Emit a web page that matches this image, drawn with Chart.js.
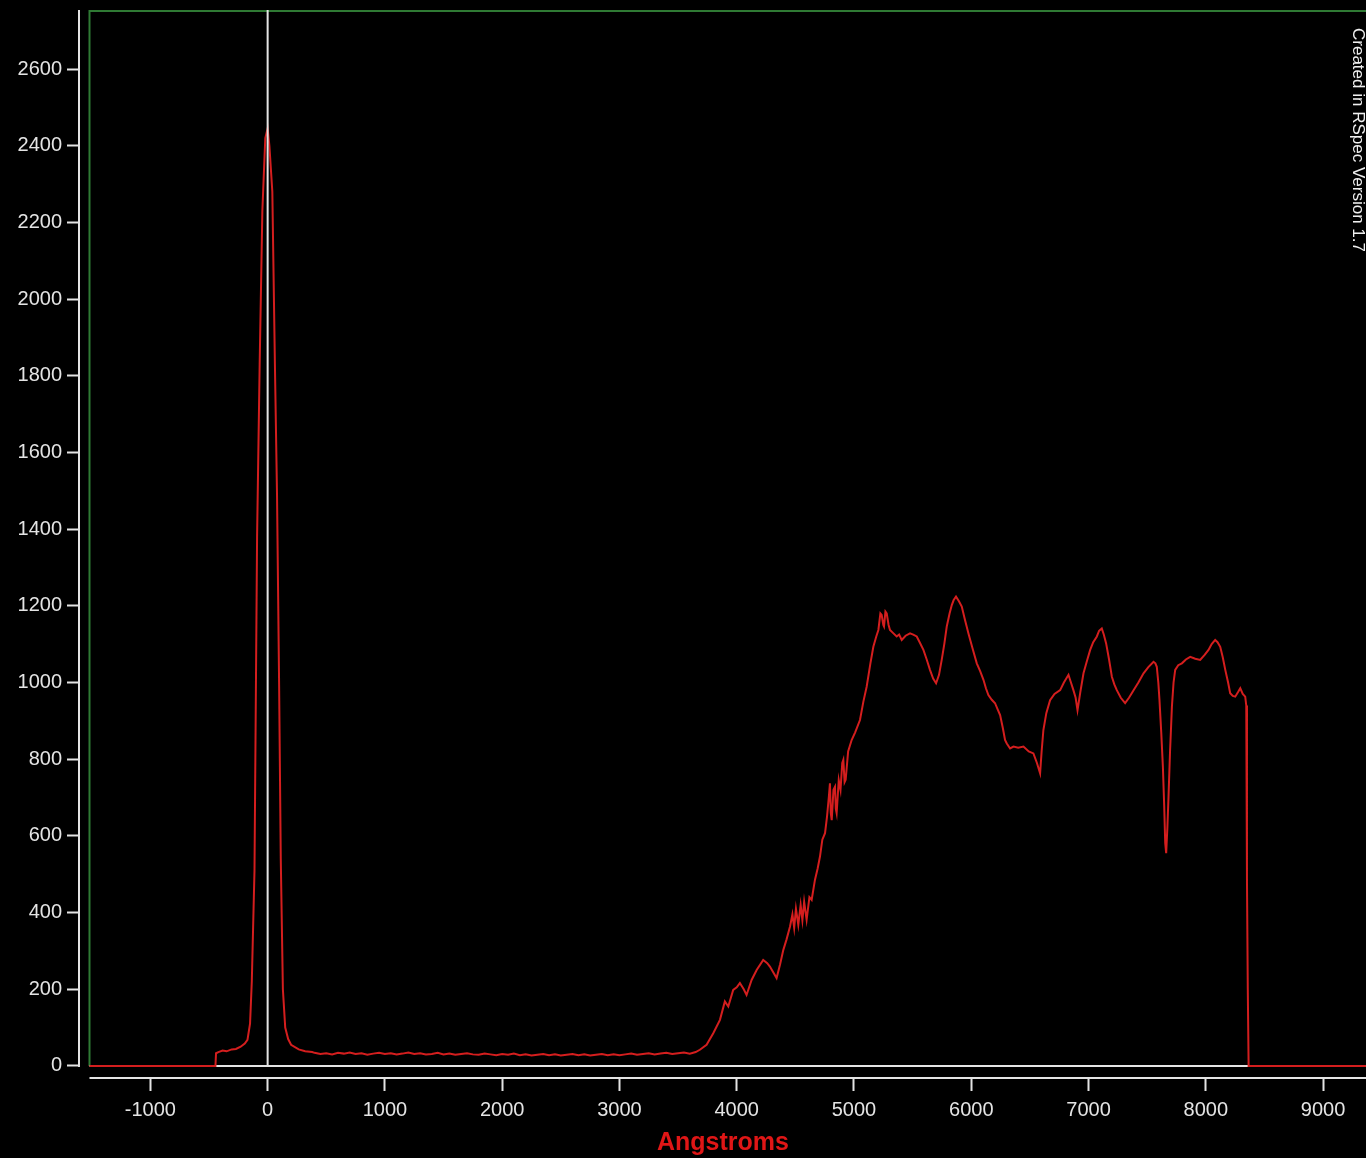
<!DOCTYPE html>
<html>
<head>
<meta charset="utf-8">
<title>Spectrum</title>
<script src="https://cdn.jsdelivr.net/npm/chart.js@4.4.1/dist/chart.umd.min.js"></script>
<style>
  html, body { margin: 0; padding: 0; background: #000; }
  canvas { display: block; }
</style>
</head>
<body>
<canvas id="spectrum" width="1366" height="1158"></canvas>
<script>
// spectrum: wavelength (Angstroms) and counts
const wavelengths = [
  -1519, -445, -440, -420, -384, -350, -307, -270, -230, -195, -172,
  -150, -135, -112, -90, -68, -45, -20, 0, 15, 40, 62, 80, 98, 112, 130, 150, 175, 200, 265, 320, 380,
  400, 450, 500, 550, 600, 650, 700, 750, 800, 850, 900, 950, 1000, 1050, 1100, 1150, 1200, 1250,
  1300, 1350, 1400, 1450, 1500, 1550, 1600, 1650, 1700, 1750, 1800, 1850, 1900, 1950, 2000, 2050,
  2100, 2150, 2200, 2250, 2300, 2350, 2400, 2450, 2500, 2550, 2600, 2650, 2700, 2750, 2800, 2850,
  2900, 2950, 3000, 3050, 3100, 3150, 3200, 3250, 3300, 3350, 3400, 3450, 3500, 3550, 3600, 3650,
  3686, 3743, 3800, 3857, 3899, 3928, 3970, 4000, 4027, 4060, 4084, 4127, 4170, 4226, 4260, 4283,
  4310, 4340, 4370, 4397, 4425, 4454, 4475, 4490, 4505, 4525, 4545, 4560, 4575, 4596, 4620, 4639,
  4667, 4690, 4710, 4730, 4753, 4770, 4785, 4795, 4802, 4810, 4825, 4838, 4845, 4852, 4870, 4885,
  4900, 4909, 4920, 4929, 4950, 4980, 5010, 5051, 5080, 5108, 5140, 5165, 5190, 5208, 5225, 5236,
  5250, 5256, 5268, 5279, 5295, 5307, 5330, 5364, 5385, 5407, 5440, 5478, 5505, 5535, 5560, 5592,
  5620, 5648, 5675, 5700, 5725, 5748, 5770, 5791, 5815, 5834, 5850, 5870, 5895, 5919, 5945, 5976,
  6010, 6047, 6075, 6104, 6125, 6146, 6175, 6203, 6225, 6246, 6270, 6288, 6303, 6331, 6360, 6400,
  6445, 6490, 6530, 6560, 6587, 6600, 6615, 6640, 6672, 6710, 6758, 6790, 6829, 6850, 6871, 6890,
  6906, 6930, 6957, 6985, 7014, 7040, 7071, 7090, 7113, 7130, 7150, 7175, 7199, 7220, 7241, 7275,
  7312, 7345, 7384, 7425, 7469, 7510, 7554, 7570, 7582, 7595, 7605, 7620, 7634, 7645, 7654, 7662,
  7672, 7682, 7695, 7711, 7725, 7739, 7765, 7796, 7830, 7867, 7910, 7952, 7990, 8023, 8050, 8080,
  8100, 8123, 8145, 8166, 8190, 8208, 8230, 8251, 8275, 8294, 8315, 8336, 8345, 8351, 8358, 8365,
  9370
];
const counts = [
  0, 0, 33, 36, 40, 38, 43, 44, 50, 58, 68,
  110, 220, 510, 1380, 1830, 2230, 2420, 2445, 2400, 2280, 1830, 1490, 990, 540, 200, 100, 70, 55, 43, 38, 36,
  34, 31, 33, 30, 34, 32, 35, 31, 33, 29, 32, 34, 31, 33, 30, 32, 35, 31,
  33, 30, 31, 34, 30, 32, 29, 31, 33, 30, 29, 32, 30, 28, 31, 29,
  32, 28, 30, 27, 29, 31, 28, 30, 27, 29, 31, 28, 30, 27, 29, 31,
  28, 30, 28, 30, 32, 29, 31, 33, 30, 32, 34, 31, 33, 35, 32, 36,
  42, 55, 85, 120, 168, 155, 198, 205, 216, 200, 185, 224, 250, 276, 268, 259,
  245, 229, 265, 302, 330, 363, 395, 360, 410, 368, 420, 380, 428, 381, 440, 433,
  485, 515, 546, 590, 607, 650, 700, 737, 660, 641, 720, 728, 670, 659, 745, 720,
  790, 798, 740, 746, 820, 850, 870, 902, 950, 989, 1050, 1093, 1120, 1137, 1180, 1176,
  1150, 1146, 1185, 1180, 1150, 1137, 1130, 1120, 1125, 1111, 1122, 1128, 1125, 1120, 1105, 1085,
  1060, 1033, 1010, 998, 1020, 1059, 1100, 1146, 1180, 1202, 1215, 1224, 1212, 1198, 1165, 1128,
  1090, 1050, 1030, 1007, 985, 967, 955, 946, 930, 915, 880, 850, 841, 828, 833, 830,
  833, 820, 815, 790, 763, 820, 876, 920, 954, 970, 980, 1000, 1020, 1000, 980, 960,
  928, 975, 1024, 1055, 1085, 1105, 1120, 1135, 1141, 1125, 1102, 1060, 1015, 995, 980, 960,
  946, 960, 980, 1000, 1024, 1040, 1054, 1050, 1041, 1000, 954, 870, 780, 680, 581, 555,
  620, 702, 820, 937, 1000, 1033, 1045, 1050, 1060, 1067, 1062, 1059, 1072, 1085, 1100, 1111,
  1105, 1093, 1065, 1033, 1000, 972, 965, 963, 975, 985, 970, 963, 940, 485, 200, 0,
  0
];

const xTickValues = [-1000, 0, 1000, 2000, 3000, 4000, 5000, 6000, 7000, 8000, 9000];
const yTickValues = [0, 200, 400, 600, 800, 1000, 1200, 1400, 1600, 1800, 2000, 2200, 2400, 2600];

const axisColor = '#e4e4e4';
const frameColor = '#2f7a34';
const lineColor = '#d41e1e';
const creditText = 'Created in RSpec Version 1.7';
const tickFont = {family: '"Liberation Sans", Arial, sans-serif', size: 20};

// frame, zero line, marker at 0 A, axis lines, credit
const decorations = {
  id: 'decorations',
  beforeDatasetsDraw(chart) {
    const {ctx, chartArea, scales: {x, y}} = chart;
    const left = x.getPixelForValue(wavelengths[0]);
    const zeroY = y.getPixelForValue(0);
    ctx.save();
    ctx.strokeStyle = frameColor;
    ctx.lineWidth = 2;
    ctx.beginPath();
    ctx.moveTo(left, zeroY);
    ctx.lineTo(left, chartArea.top + 1);
    ctx.lineTo(chartArea.right + 2, chartArea.top + 1);
    ctx.stroke();

    ctx.strokeStyle = axisColor;
    ctx.beginPath();
    ctx.moveTo(left, zeroY);
    ctx.lineTo(chartArea.right, zeroY);
    ctx.stroke();
    ctx.restore();
  },
  afterDatasetsDraw(chart) {
    const {ctx, chartArea, scales: {x, y}} = chart;
    const zeroX = x.getPixelForValue(0);
    const zeroY = y.getPixelForValue(0);
    ctx.save();
    ctx.strokeStyle = axisColor;
    ctx.lineWidth = 2;
    ctx.beginPath();
    ctx.moveTo(zeroX, chartArea.top);
    ctx.lineTo(zeroX, zeroY);
    // y axis line
    ctx.moveTo(y.right - 1, chartArea.top);
    ctx.lineTo(y.right - 1, zeroY + 1);
    // x axis line
    ctx.moveTo(x.getPixelForValue(wavelengths[0]), x.top + 1);
    ctx.lineTo(chartArea.right, x.top + 1);
    ctx.stroke();

    ctx.translate(chartArea.right - 8, chartArea.top + 18);
    ctx.rotate(Math.PI / 2);
    ctx.fillStyle = '#f0f0f0';
    ctx.font = '17px "Liberation Sans", Arial, sans-serif';
    ctx.textAlign = 'left';
    ctx.textBaseline = 'middle';
    ctx.fillText(creditText, 0, 0);
    ctx.restore();
  }
};

new Chart(document.getElementById('spectrum'), {
  type: 'line',
  data: {
    datasets: [{
      data: wavelengths.map((w, i) => ({x: w, y: counts[i]})),
      borderColor: lineColor,
      borderWidth: 2,
      pointRadius: 0,
      tension: 0,
      fill: false
    }]
  },
  options: {
    responsive: false,
    animation: false,
    devicePixelRatio: 1,
    layout: {padding: {top: 10, left: 0, right: 0, bottom: 0}},
    plugins: {legend: {display: false}, tooltip: {enabled: false}},
    scales: {
      x: {
        type: 'linear',
        min: -1600,
        max: 9366,
        afterFit: s => { s.height = 81; s.paddingLeft = 0; s.paddingRight = 0; },
        afterBuildTicks: s => { s.ticks = xTickValues.map(v => ({value: v})); },
        border: {display: false},
        grid: {drawOnChartArea: false, drawTicks: true, tickLength: 14, tickWidth: 2, tickColor: axisColor},
        ticks: {
          color: axisColor,
          padding: 7,
          maxRotation: 0,
          font: tickFont,
          callback: v => String(v)
        },
        title: {
          display: true,
          text: 'Angstroms',
          color: '#e01616',
          padding: {top: 0, bottom: 0},
          font: {family: '"Liberation Sans", Arial, sans-serif', size: 25, weight: 'bold'}
        }
      },
      y: {
        min: -29,
        max: 2754,
        afterFit: s => { s.width = 80; s.paddingTop = 0; s.paddingBottom = 0; },
        afterBuildTicks: s => { s.ticks = yTickValues.map(v => ({value: v})); },
        border: {display: false},
        grid: {drawOnChartArea: false, drawTicks: true, tickLength: 13, tickWidth: 2, tickColor: axisColor},
        ticks: {
          color: axisColor,
          padding: 5,
          font: tickFont,
          callback: v => String(v)
        }
      }
    }
  },
  plugins: [decorations]
});
</script>
</body>
</html>
